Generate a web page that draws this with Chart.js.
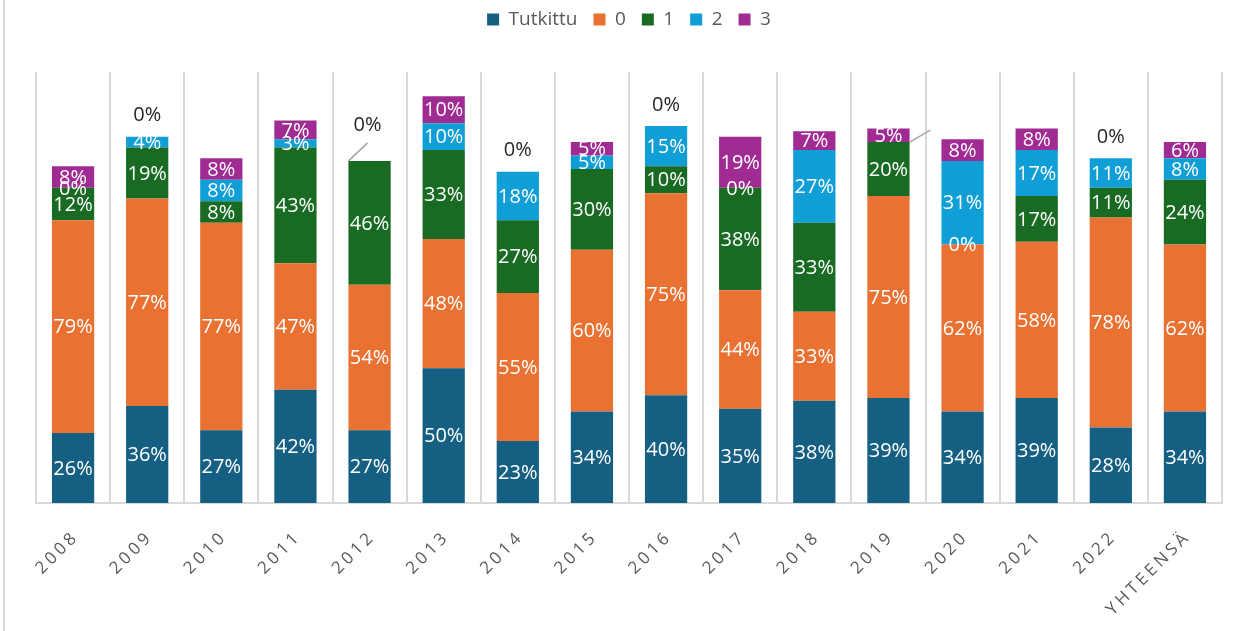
<!DOCTYPE html>
<html>
<head>
<meta charset="utf-8">
<script src="https://cdn.jsdelivr.net/npm/chart.js@4.4.1/dist/chart.umd.min.js"></script>
<style>
html, body { margin: 0; padding: 0; background: #fff; }
#wrap { position: relative; width: 1244px; height: 631px; }
#wrap:before { content: ''; position: absolute; left: 3px; top: 0; width: 2px; height: 631px; background: #d9d9d9; }
</style>
</head>
<body>
<div id="wrap"><canvas id="chart" width="1244" height="631"></canvas></div>
<script>
const vuodet = ["2008", "2009", "2010", "2011", "2012", "2013", "2014", "2015",
    "2016", "2017", "2018", "2019", "2020", "2021", "2022", "YHTEENSÄ"];
const tutkittu = [26, 36, 27, 42, 27, 50, 23, 34, 40, 35, 38, 39, 34, 39, 28, 34];
const arvo0 = [79, 77, 77, 47, 54, 48, 55, 60, 75, 44, 33, 75, 62, 58, 78, 62];
const arvo1 = [12, 19, 8, 43, 46, 33, 27, 30, 10, 38, 33, 20, 0, 17, 11, 24];
const arvo2 = [0, 4, 8, 3, null, 10, 18, 5, 15, 0, 27, 0, 31, 17, 11, 8];
const arvo3 = [8, 0, 8, 7, 0, 10, 0, 5, 0, 19, 7, 5, 8, 8, 0, 6];

// labels that Excel moved out with a leader line
const siirretyt = [
    { vuosi: "2012", sarja: 4, dx: -2, dy: -36, piilota: false },
    { vuosi: "2019", sarja: 3, dx: 42, dy: -12, piilota: true }
];

const labelPlugin = {
    id: "labels",
    afterDatasetsDraw(chart) {
        const ctx = chart.ctx;
        const sets = chart.data.datasets;
        ctx.save();
        ctx.font = '20px "Open Sans", "Liberation Sans", sans-serif';
        ctx.textAlign = "center";
        ctx.textBaseline = "middle";
        sets.forEach((ds, d) => {
            const meta = chart.getDatasetMeta(d);
            meta.data.forEach((bar, i) => {
                const v = ds.data[i];
                if (v === null) return;
                const text = v + "%";
                const move = siirretyt.find(s => s.vuosi === vuodet[i] && s.sarja === d);
                const ylempana = sets.slice(d + 1).some(o => o.data[i] > 0);
                if (move) {
                    const bx = move.dx > 0 ? bar.x + bar.width / 2 : bar.x - bar.width / 2;
                    const lx = bar.x + move.dx, ly = bar.y + move.dy;
                    ctx.strokeStyle = "#a6a6a6";
                    ctx.lineWidth = 1.5;
                    ctx.beginPath();
                    ctx.moveTo(bx, bar.y);
                    ctx.lineTo(lx, move.piilota ? ly : ly + 18);
                    ctx.stroke();
                    if (!move.piilota) {
                        ctx.fillStyle = "#262626";
                        ctx.fillText(text, lx, ly);
                    }
                } else if (v === 0 && !ylempana) {
                    ctx.fillStyle = "#262626";
                    ctx.fillText(text, bar.x, bar.y - 21);
                } else {
                    ctx.fillStyle = "#ffffff";
                    ctx.fillText(text, bar.x, (bar.y + bar.base) / 2 + 1);
                }
            });
        });
        ctx.restore();
    },
    afterDraw(chart) {
        // x axis labels, rotated and letter-spaced
        const ctx = chart.ctx;
        const xs = chart.scales.x;
        ctx.save();
        ctx.font = '17px "Open Sans", "DejaVu Sans", sans-serif';
        ctx.letterSpacing = "3.5px";
        ctx.fillStyle = "#595959";
        ctx.textAlign = "right";
        ctx.textBaseline = "middle";
        vuodet.forEach((v, i) => {
            const x = xs.getPixelForValue(i);
            ctx.save();
            ctx.translate(x + 3, chart.chartArea.bottom + 31);
            ctx.rotate(-Math.PI / 4);
            ctx.fillText(v, 0, 0);
            ctx.restore();
        });
        ctx.restore();
    }
};

const legendHeight = {
    id: "legendHeight",
    beforeInit(chart) {
        const fit = chart.legend.fit;
        chart.legend.fit = function () {
            fit.bind(chart.legend)();
            this.height = 78;
        };
    }
};

const ctx = document.getElementById("chart");
const chart = new Chart(ctx, {
    type: "bar",
    data: {
        labels: vuodet,
        datasets: [
            { label: "Tutkittu", data: tutkittu, backgroundColor: "#156082" },
            { label: "0", data: arvo0, backgroundColor: "#E97132" },
            { label: "1", data: arvo1, backgroundColor: "#196B24" },
            { label: "2", data: arvo2, backgroundColor: "#0F9ED5" },
            { label: "3", data: arvo3, backgroundColor: "#A02B93" }
        ]
    },
    options: {
        responsive: false,
        animation: false,
        layout: { padding: { left: 36, right: 22, top: -6, bottom: 0 } },
        datasets: { bar: { categoryPercentage: 1, barPercentage: 0.57, borderWidth: 0 } },
        plugins: {
            legend: {
                position: "top",
                labels: {
                    color: "#595959",
                    font: { size: 19, family: '"Open Sans", "Liberation Sans", sans-serif' },
                    boxWidth: 12,
                    boxHeight: 12,
                    padding: 16
                }
            },
            tooltip: { enabled: false }
        },
        scales: {
            x: {
                stacked: true,
                grid: { color: "#d9d9d9", lineWidth: 2, drawTicks: false, offset: true },
                border: { color: "#d9d9d9", width: 2 },
                ticks: { display: false },
                afterFit: s => { s.height = 128; }
            },
            y: {
                stacked: true,
                display: false,
                min: 0,
                max: 160
            }
        }
    },
    plugins: [labelPlugin, legendHeight]
});
</script>
</body>
</html>
